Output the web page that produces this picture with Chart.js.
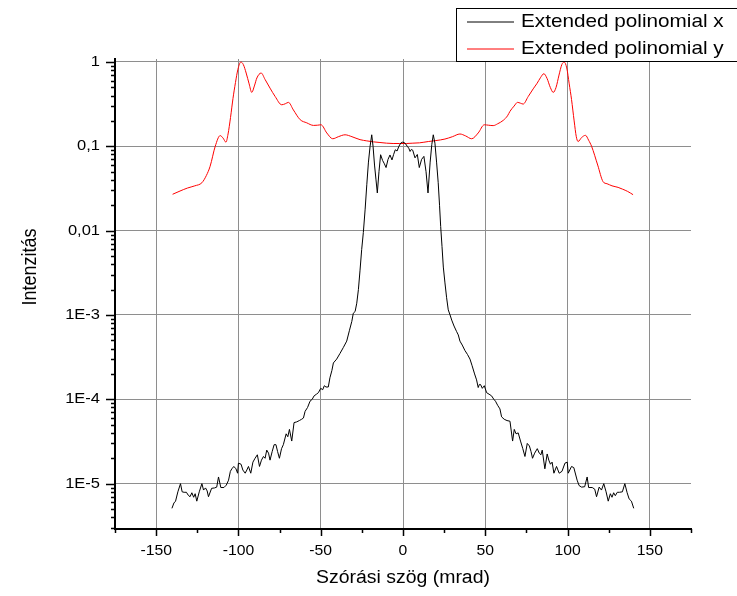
<!DOCTYPE html>
<html>
<head>
<meta charset="utf-8">
<title>Szórási intenzitás</title>
<script src="https://cdn.jsdelivr.net/npm/chart.js@4.4.1/dist/chart.umd.min.js"></script>
<style>
  html, body { margin: 0; padding: 0; background: #ffffff; }
  canvas { display: block; }
</style>
</head>
<body>
<canvas id="chart" width="737" height="596"></canvas>
<script>
// Scattering angle (mrad) and intensity pairs, series "Extended polinomial x"
const polinomialX = [
  [-140.4,5.1e-6],[-139.2,5.9e-6],[-138.2,6.2e-6],[-136.8,8e-6],[-135.2,1.0e-5],[-134.2,8.0e-6],
  [-133,7.9e-6],[-131.6,7.9e-6],[-130.5,7.3e-6],[-129.4,7.0e-6],[-128.3,7.8e-6],[-127.2,6.9e-6],
  [-126.3,7.6e-6],[-125.3,6.2e-6],[-123.8,8.0e-6],[-122.2,1.0e-5],[-121.2,8.4e-6],[-120,8.9e-6],
  [-119,8.2e-6],[-118.2,7.0e-6],[-116.3,8.8e-6],[-114.5,8.9e-6],[-113.2,9.1e-6],[-112.1,1.2e-5],
  [-110.7,9.0e-6],[-108.8,9.0e-6],[-107.4,9.6e-6],[-106,1.1e-5],[-104.9,1.4e-5],[-104,1.5e-5],
  [-102.8,1.6e-5],[-101.5,1.5e-5],[-100.5,1.33e-5],[-100,1.75e-5],[-98.4,1.7e-5],[-97.3,1.45e-5],
  [-95.9,1.33e-5],[-94.9,1.45e-5],[-93.9,1.6e-5],[-92.5,1.33e-5],[-91.2,1.8e-5],[-89.9,2.0e-5],
  [-88.5,2.2e-5],[-87.2,1.6e-5],[-86,1.9e-5],[-84.8,2.1e-5],[-83.8,2.0e-5],[-82.8,2.5e-5],
  [-81.7,2.3e-5],[-80.8,1.9e-5],[-79.5,2.4e-5],[-78.3,2.9e-5],[-77.2,2.9e-5],[-76.2,2.4e-5],
  [-75.1,2.0e-5],[-73.8,2.6e-5],[-72.7,2.9e-5],[-71,3.9e-5],[-70,3.6e-5],[-69,4.4e-5],
  [-67.6,3.2e-5],[-66.2,5.3e-5],[-64.6,5.4e-5],[-63,5.6e-5],[-61.6,5.8e-5],[-60.5,6.0e-5],
  [-59.5,7.2e-5],[-58,8.0e-5],[-56.5,9.5e-5],[-55.2,1.0e-4],[-54,1.1e-4],[-52.6,1.15e-4],
  [-51.4,1.2e-4],[-50,1.35e-4],[-48.8,1.3e-4],[-47.8,1.45e-4],[-46.8,1.4e-4],[-45.4,1.4e-4],
  [-44.4,1.8e-4],[-43.2,2.2e-4],[-42.3,2.7e-4],[-40.3,3.0e-4],[-38.3,3.5e-4],[-36.3,4.1e-4],
  [-34.2,4.9e-4],[-32.6,6.5e-4],[-31.1,8.4e-4],[-30.2,1.05e-3],[-29.1,1.1e-3],[-28.1,1.38e-3],
  [-27.1,2.0e-3],[-26.1,3.4e-3],[-25.1,6.0e-3],[-24.1,9.5e-3],[-23,0.018],[-22,0.035],
  [-21,0.065],[-20,0.1],[-19,0.137],[-18.2,0.1],[-17.3,0.06],[-16.4,0.04],[-15.6,0.028],
  [-14.6,0.05],[-13.6,0.0795],[-12.4,0.068],[-11.3,0.062],[-10.3,0.056],[-9.1,0.07],[-7.9,0.079],
  [-6.7,0.069],[-5.7,0.08],[-4.7,0.091],[-3.6,0.088],[-2.5,0.1],[-1.4,0.109],[-0.4,0.112],
  [0.6,0.111],[1.6,0.107],[2.6,0.1],[3.5,0.095],[4.3,0.087],[5.1,0.092],[5.9,0.09],[7.3,0.073],
  [8.7,0.08],[9.9,0.056],[11.3,0.07],[12.7,0.076],[14,0.05],[15.2,0.028],[16.5,0.065],[17.5,0.105],
  [18.4,0.137],[19.4,0.109],[20.4,0.065],[21.4,0.037],[22.2,0.02],[22.9,0.0112],[23.7,0.0065],
  [24.5,0.0037],[25.5,0.0024],[26.5,0.0016],[27.5,1.15e-3],[28.6,1.0e-3],[29.6,8.7e-4],[31,7.4e-4],
  [32.5,6.4e-4],[33.6,5.8e-4],[34.6,4.9e-4],[36,4.4e-4],[37.6,3.8e-4],[39.2,3.4e-4],[40.7,3.0e-4],
  [42,2.5e-4],[43.5,2.0e-4],[44.7,1.7e-4],[45.7,1.38e-4],[46.4,1.5e-4],[47.1,1.5e-4],[48.2,1.35e-4],
  [49.4,1.45e-4],[50.8,1.2e-4],[52.3,1.15e-4],[53.8,1.1e-4],[55.2,1.0e-4],[56.2,9.5e-5],[57.5,8.5e-5],
  [58.9,7.7e-5],[59.9,6.2e-5],[61.5,5.8e-5],[63.2,5.6e-5],[65,5.5e-5],[66.6,3.2e-5],[67.6,4.4e-5],
  [68.7,3.9e-5],[70,4.0e-5],[71.4,3.2e-5],[72.8,2.6e-5],[74.1,2.1e-5],[75.5,3.0e-5],[76.8,2.8e-5],
  [77.8,2.4e-5],[78.7,2.0e-5],[80,2.3e-5],[81.6,2.6e-5],[82.8,2.3e-5],[83.8,2.2e-5],[84.6,2.5e-5],
  [86.2,1.5e-5],[87.6,2.25e-5],[88.6,1.9e-5],[89.6,1.7e-5],[90.6,1.8e-5],[91.7,1.33e-5],[93.3,1.6e-5],
  [94.9,1.33e-5],[96.6,1.4e-5],[98.4,1.75e-5],[99.8,1.8e-5],[100.4,1.33e-5],[102.4,1.6e-5],
  [103.8,1.55e-5],[105.8,1.1e-5],[107,9.5e-6],[108.5,9.1e-6],[110.4,9.2e-6],[111.9,1.2e-5],
  [112.8,9e-6],[115,9e-6],[116.5,8.6e-6],[117.6,7e-6],[119.2,9.1e-6],[120.6,8.4e-6],[122,1.0e-5],
  [123.4,8e-6],[124.7,6.2e-6],[126,7.6e-6],[127,6.9e-6],[128,7.8e-6],[129,7.2e-6],[130.2,7.9e-6],
  [131.5,7.9e-6],[133.3,8.0e-6],[134.8,1.0e-5],[136.2,7.8e-6],[137.4,6.6e-6],[138.8,6.2e-6],
  [140.2,5.1e-6]
];

// Scattering angle (mrad) and intensity pairs, series "Extended polinomial y"
const polinomialY = [
  [-140,0.027],[-135.5,0.0295],[-131,0.032],[-126.5,0.034],[-122.2,0.037],[-119.5,0.045],
  [-117.2,0.058],[-114.1,0.1],[-111.1,0.134],[-109.3,0.125],[-107.6,0.112],[-106.3,0.14],
  [-104.8,0.22],[-103.3,0.37],[-101.8,0.57],[-100.3,0.82],[-98.5,1.0],[-97,0.93],[-95.3,0.74],
  [-93.5,0.55],[-91.9,0.436],[-90.3,0.52],[-88.8,0.646],[-86.2,0.74],[-83.8,0.62],[-80.8,0.49],
  [-77.7,0.39],[-73.7,0.311],[-71.5,0.32],[-69.6,0.332],[-66.6,0.27],[-62.5,0.207],[-58.5,0.19],
  [-54.4,0.177],[-52,0.178],[-49.8,0.18],[-46.3,0.144],[-42.7,0.123],[-39.3,0.13],[-35.2,0.137],
  [-31,0.13],[-26.1,0.12],[-22,0.116],[-18,0.113],[-14,0.111],[-10,0.109],[-6,0.108],[-2,0.108],
  [2,0.108],[6,0.109],[10,0.11],[15.4,0.114],[20,0.117],[25.5,0.122],[30,0.13],[34.6,0.14],
  [38,0.133],[41.7,0.123],[45.7,0.144],[49.4,0.18],[52,0.178],[54.8,0.176],[57.5,0.185],
  [60.9,0.203],[63.5,0.23],[65,0.26],[67.5,0.3],[69.6,0.332],[71.3,0.325],[73,0.317],[76.1,0.39],
  [79.1,0.48],[81.5,0.56],[83.5,0.65],[85.6,0.726],[87.5,0.64],[89.5,0.5],[91.3,0.436],[93,0.5],
  [94.8,0.7],[96.5,0.93],[97.9,1.0],[99.5,0.85],[101,0.55],[102.4,0.36],[104,0.2],[105.3,0.13],
  [106.4,0.114],[108.5,0.127],[110.9,0.135],[112.8,0.118],[114.6,0.1],[118.3,0.06],[121.6,0.038],
  [124,0.036],[127,0.034],[130.7,0.0326],[133.5,0.031],[136.5,0.0292],[139.8,0.0267]
];

// Axis ticks and their printed labels
const xTickValues = [-150, -100, -50, 0, 50, 100, 150];
const xTickLabels = ['-150', '-100', '-50', '0', '50', '100', '150'];
const yTickValues = [1, 0.1, 0.01, 1e-3, 1e-4, 1e-5];
const yTickLabels = ['1', '0,1', '0,01', '1E-3', '1E-4', '1E-5'];

const seriesNames = ['Extended polinomial x', 'Extended polinomial y'];
const seriesColors = ['#000000', '#ff0000'];

const FONT = '"Liberation Sans", Arial, Helvetica, sans-serif';

function isDecade(v) {
  const l = Math.log10(v);
  return Math.abs(l - Math.round(l)) < 1e-9;
}

// Text drawn slightly widened horizontally
function wideText(ctx, text, x, y, align, size, sx, rotate) {
  ctx.save();
  ctx.font = size + 'px ' + FONT;
  ctx.fillStyle = '#000';
  ctx.textAlign = align;
  ctx.textBaseline = 'middle';
  ctx.translate(x, y);
  if (rotate) {
    ctx.rotate(-Math.PI / 2);
    ctx.scale(1, sx);
  } else {
    ctx.scale(sx, 1);
  }
  ctx.fillText(text, 0, 0);
  ctx.restore();
}

// Tick marks, tick labels, axis titles and the boxed legend
const decorations = {
  id: 'decorations',
  afterDraw(chart) {
    const ctx = chart.ctx;
    const xs = chart.scales.x, ys = chart.scales.y;
    const area = chart.chartArea;

    ctx.save();
    ctx.strokeStyle = '#000';
    ctx.lineWidth = 1.5;
    ctx.beginPath();
    // y ticks: decades long, 2..9 short
    for (let k = -7; k <= 0; k++) {
      for (let m = 1; m <= 9; m++) {
        const v = m * Math.pow(10, k);
        if (v < ys.min || v > ys.max) continue;
        const py = Math.round(ys.getPixelForValue(v)) + 0.5;
        const len = m === 1 ? 9 : 4;
        ctx.moveTo(area.left - len, py);
        ctx.lineTo(area.left, py);
      }
    }
    // x ticks every 25, labelled ones longer
    for (let v = -175; v <= 175; v += 25) {
      const px = Math.round(xs.getPixelForValue(v)) + 0.5;
      const len = v % 50 === 0 ? 7 : 4;
      ctx.moveTo(px, area.bottom);
      ctx.lineTo(px, area.bottom + len);
    }
    ctx.stroke();
    ctx.restore();

    yTickValues.forEach((v, i) => {
      wideText(ctx, yTickLabels[i], area.left - 15, ys.getPixelForValue(v), 'right', 15, 1.1);
    });
    xTickValues.forEach((v, i) => {
      wideText(ctx, xTickLabels[i], xs.getPixelForValue(v), area.bottom + 22, 'center', 15, 1.05);
    });

    wideText(ctx, 'Szórási szög (mrad)', xs.getPixelForValue(0), 578, 'center', 18, 1.08);
    wideText(ctx, 'Intenzitás', 31, 267, 'center', 18, 1.08, true);

    // legend box
    ctx.save();
    ctx.fillStyle = '#fff';
    ctx.strokeStyle = '#000';
    ctx.lineWidth = 1;
    ctx.fillRect(456.5, 8.5, 300, 53);
    ctx.strokeRect(456.5, 8.5, 300, 53);
    const rows = [22, 49];
    seriesNames.forEach((name, i) => {
      ctx.strokeStyle = seriesColors[i];
      ctx.lineWidth = 1;
      ctx.beginPath();
      ctx.moveTo(467, rows[i]);
      ctx.lineTo(514, rows[i]);
      ctx.stroke();
      wideText(ctx, name, 521, rows[i], 'left', 19, 1.09);
    });
    ctx.restore();
  }
};

const toPoints = arr => arr.map(p => ({ x: p[0], y: p[1] }));

new Chart(document.getElementById('chart'), {
  type: 'line',
  data: {
    datasets: [
      {
        label: seriesNames[0],
        data: toPoints(polinomialX),
        borderColor: seriesColors[0],
        borderWidth: 1,
        pointRadius: 0,
        tension: 0,
        fill: false
      },
      {
        label: seriesNames[1],
        data: toPoints(polinomialY),
        borderColor: seriesColors[1],
        borderWidth: 1,
        pointRadius: 0,
        cubicInterpolationMode: 'monotone',
        fill: false
      }
    ]
  },
  options: {
    responsive: false,
    animation: false,
    devicePixelRatio: 1,
    layout: { padding: { left: 0, right: 46, top: 59, bottom: 0 } },
    plugins: { legend: { display: false }, tooltip: { enabled: false }, title: { display: false } },
    scales: {
      x: {
        type: 'linear',
        min: -175,
        max: 175,
        ticks: { display: false, stepSize: 25 },
        grid: {
          drawTicks: false,
          lineWidth: 1,
          color: c => (Math.abs(c.tick.value) <= 150 && c.tick.value % 50 === 0) ? '#8e8e8e' : 'rgba(0,0,0,0)'
        },
        border: { display: true, color: '#000', width: 2 },
        afterFit: s => { s.height = 596 - 529; }
      },
      y: {
        type: 'logarithmic',
        min: 2.9e-6,
        max: 1.085,
        ticks: { display: false },
        grid: {
          drawTicks: false,
          lineWidth: 1,
          color: c => isDecade(c.tick.value) ? '#8e8e8e' : 'rgba(0,0,0,0)'
        },
        border: { display: true, color: '#000', width: 2 },
        afterFit: s => { s.width = 115; }
      }
    }
  },
  plugins: [decorations]
});
</script>
</body>
</html>
